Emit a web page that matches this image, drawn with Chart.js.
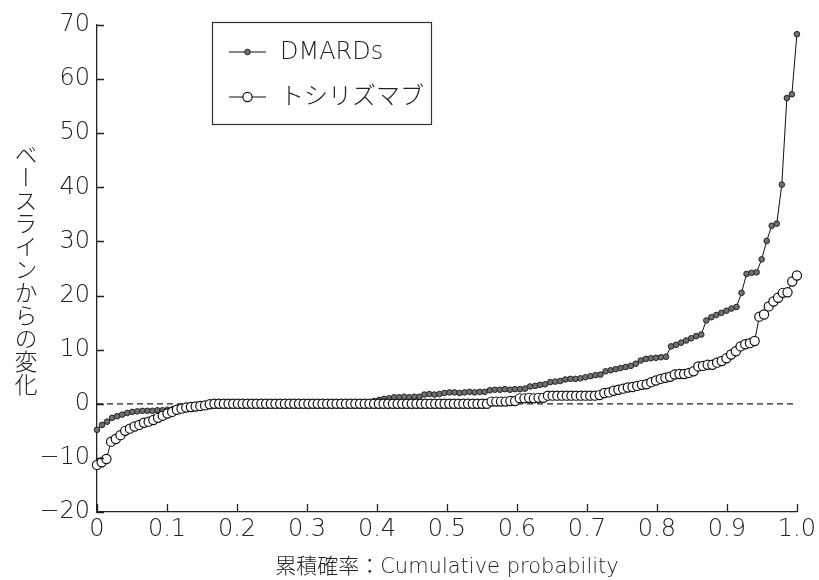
<!DOCTYPE html>
<html lang="ja">
<head>
<meta charset="utf-8">
<title>累積確率プロット</title>
<script src="https://cdn.jsdelivr.net/npm/chart.js@4/dist/chart.umd.min.js"></script>
<style>
  body { margin: 0; background: #fff; }
  #wrap { position: relative; width: 819px; height: 580px; }
  #yTitle {
    position: absolute; left: 14px; top: 143px;
    writing-mode: vertical-rl;
    font-family: "Noto Sans CJK JP", sans-serif;
    font-size: 23px; font-weight: 300; line-height: 1; color: #222;
  }
</style>
</head>
<body>
<div id="wrap">
  <canvas id="chart" width="819" height="580"></canvas>
  <div id="yTitle">ベースラインからの変化</div>
</div>
<script>
// Change from baseline, sorted ascending.
// x position is the cumulative probability (rank / (n - 1)).
const dmardsChange = [
  -4.8, -3.9, -3.3, -2.6, -2.3, -2.0, -1.7, -1.5, -1.4, -1.3,
  -1.3, -1.3, -1.2, -1.2, -1.1, -1.0, -0.8, -0.7, -0.5, -0.4,
  -0.3, -0.2,
  0, 0, 0, 0, 0, 0, 0, 0, 0, 0,
  0, 0, 0, 0, 0, 0, 0, 0, 0, 0,
  0, 0, 0, 0, 0, 0, 0, 0, 0, 0,
  0, 0, 0,
  0.5, 0.7, 0.9, 1.0,
  1.2, 1.2, 1.3, 1.2, 1.3, 1.3,
  1.7, 1.8, 1.7, 1.8,
  2.0, 2.1, 2.1, 2.0, 2.1, 2.2, 2.1, 2.2, 2.2,
  2.5, 2.6, 2.6, 2.7, 2.6, 2.7, 2.7, 2.8,
  3.2, 3.3, 3.5, 3.6,
  4.0, 4.1, 4.2,
  4.5, 4.6, 4.6, 4.7,
  4.9, 5.1, 5.3, 5.4,
  6.0, 6.2, 6.4, 6.6, 6.8, 7.0, 7.4,
  8.0, 8.3, 8.4, 8.5, 8.6, 8.7,
  10.6, 10.9, 11.3, 11.7, 12.1, 12.5, 12.8,
  15.4, 16.0, 16.4, 16.8, 17.2, 17.6, 17.9,
  20.5, 24.0, 24.2, 24.3, 26.7, 30.1, 32.9, 33.3, 40.5, 56.5,
  57.2, 68.3
];

const tocilizumabChange = [
  -11.3, -10.8, -10.2, -7.0, -6.5, -5.8, -5.0, -4.6, -4.2, -3.9,
  -3.5, -3.3, -3.0, -2.6, -2.2, -1.8, -1.5, -1.1, -0.9, -0.7,
  -0.6, -0.5, -0.4, -0.3, -0.1,
  0, 0, 0, 0, 0, 0, 0, 0, 0, 0,
  0, 0, 0, 0, 0, 0, 0, 0, 0, 0,
  0, 0, 0, 0, 0, 0, 0, 0, 0, 0,
  0, 0, 0, 0, 0, 0, 0, 0, 0, 0,
  0, 0, 0, 0, 0, 0, 0, 0, 0, 0,
  0, 0, 0, 0, 0, 0, 0, 0, 0,
  0.4, 0.4, 0.4, 0.4, 0.5, 0.5,
  1.0, 1.0, 1.1, 1.0, 1.1, 1.1,
  1.5, 1.5, 1.5, 1.5, 1.5, 1.5, 1.5, 1.5, 1.5, 1.5, 1.5, 1.6,
  2.0, 2.1, 2.4, 2.6, 2.8, 3.0, 3.1, 3.3, 3.5, 3.6,
  4.0, 4.3, 4.6, 4.8, 5.0, 5.4, 5.5, 5.5, 5.7, 6.0,
  6.9, 7.0, 7.2, 7.2, 7.6, 7.9, 8.4, 9.1, 9.7, 10.6,
  11.0, 11.2, 11.6, 16.1, 16.5, 18.0, 18.9, 19.6, 20.5, 20.6,
  22.6, 23.7
];

const seriesNames = ['DMARDs', 'トシリズマブ'];
const xTickValues = [0, 0.1, 0.2, 0.3, 0.4, 0.5, 0.6, 0.7, 0.8, 0.9, 1.0];
const yTickValues = [-20, -10, 0, 10, 20, 30, 40, 50, 60, 70];
const refLineX = [0, 1.0];
const refLineY = [0, 0];

const INK = '#222';
const numFont = { family: '"DejaVu Sans", "Noto Sans CJK JP", sans-serif', size: 24, weight: '200' };

function toCumulative(values) {
  return values.map((y, i) => ({ x: i / (values.length - 1), y }));
}

function fmtY(v) {
  return v < 0 ? '\u2212' + Math.abs(v) : String(v);
}

// inward tick marks like the original figure
const innerTicks = {
  id: 'innerTicks',
  afterDraw(chart) {
    const { ctx, chartArea, scales } = chart;
    ctx.save();
    ctx.strokeStyle = INK;
    ctx.lineWidth = 1.3;
    ctx.beginPath();
    xTickValues.forEach(v => {
      const px = Math.round(scales.x.getPixelForValue(v)) + 0.5;
      ctx.moveTo(px, chartArea.bottom);
      ctx.lineTo(px, chartArea.bottom - 8);
    });
    yTickValues.forEach(v => {
      const py = Math.round(scales.y.getPixelForValue(v)) + 0.5;
      ctx.moveTo(chartArea.left, py);
      ctx.lineTo(chartArea.left + 7, py);
    });
    ctx.stroke();
    ctx.restore();
  }
};

// boxed legend in the upper left of the plot
const boxLegend = {
  id: 'boxLegend',
  afterDraw(chart) {
    const ctx = chart.ctx;
    const box = { x: 212.5, y: 22.5, w: 219, h: 102 };
    ctx.save();
    ctx.strokeStyle = '#333';
    ctx.lineWidth = 1.2;
    ctx.strokeRect(box.x, box.y, box.w, box.h);
    const rows = [52, 97];
    chart.data.datasets.slice(0, 2).forEach((ds, i) => {
      const y = rows[i];
      ctx.strokeStyle = ds.borderColor;
      ctx.lineWidth = 1.2;
      ctx.beginPath();
      ctx.moveTo(229, y);
      ctx.lineTo(266, y);
      ctx.stroke();
      ctx.beginPath();
      ctx.arc(247.5, y, ds.pointRadius, 0, Math.PI * 2);
      ctx.fillStyle = ds.pointBackgroundColor;
      ctx.fill();
      ctx.lineWidth = ds.pointBorderWidth;
      ctx.strokeStyle = ds.pointBorderColor;
      ctx.stroke();
      ctx.fillStyle = INK;
      ctx.font = '300 24px "DejaVu Sans", "Noto Sans CJK JP", sans-serif';
      ctx.textBaseline = 'middle';
      ctx.fillText(ds.label, 280, y + 1);
    });
    ctx.restore();
  }
};

new Chart(document.getElementById('chart'), {
  type: 'line',
  data: {
    datasets: [
      {
        label: seriesNames[0],
        data: toCumulative(dmardsChange),
        borderColor: '#111',
        borderWidth: 1,
        pointRadius: 2.8,
        pointBackgroundColor: '#707070',
        pointBorderColor: '#222',
        pointBorderWidth: 1,
        tension: 0,
        clip: 8,
        order: 2
      },
      {
        label: seriesNames[1],
        data: toCumulative(tocilizumabChange),
        borderColor: '#111',
        borderWidth: 1,
        pointRadius: 4.6,
        pointBackgroundColor: '#fff',
        pointBorderColor: '#111',
        pointBorderWidth: 1.2,
        tension: 0,
        clip: 8,
        order: 1
      },
      {
        label: 'ref',
        data: refLineX.map((x, i) => ({ x, y: refLineY[i] })),
        borderColor: '#222',
        borderWidth: 1.2,
        borderDash: [6, 4],
        pointRadius: 0,
        order: 3
      }
    ]
  },
  options: {
    responsive: false,
    animation: false,
    events: [],
    layout: { padding: { top: 25, right: 22, left: 0, bottom: 0 } },
    plugins: { legend: { display: false }, tooltip: { enabled: false } },
    scales: {
      x: {
        type: 'linear',
        min: 0,
        max: 1,
        afterBuildTicks: s => { s.ticks = xTickValues.map(v => ({ value: v })); },
        afterFit: s => { s.height = 68; },
        ticks: {
          callback: v => (v === 0 ? '0' : v.toFixed(1)),
          font: numFont,
          color: INK,
          padding: 3,
          maxRotation: 0,
          autoSkip: false
        },
        grid: { drawOnChartArea: false, drawTicks: false },
        border: { color: INK, width: 1.3 },
        title: {
          display: true,
          text: '累積確率：Cumulative probability',
          font: { family: '"DejaVu Sans", "Noto Sans CJK JP", sans-serif', size: 21, weight: '300' },
          color: INK,
          padding: { top: 0, bottom: 0 }
        }
      },
      y: {
        type: 'linear',
        min: -20,
        max: 70,
        afterBuildTicks: s => { s.ticks = yTickValues.map(v => ({ value: v })); },
        afterFit: s => { s.width = 97; },
        ticks: { callback: fmtY, font: numFont, color: INK, padding: 7 },
        grid: { drawOnChartArea: false, drawTicks: false },
        border: { color: INK, width: 1.3 }
      }
    }
  },
  plugins: [innerTicks, boxLegend]
});
</script>
</body>
</html>
